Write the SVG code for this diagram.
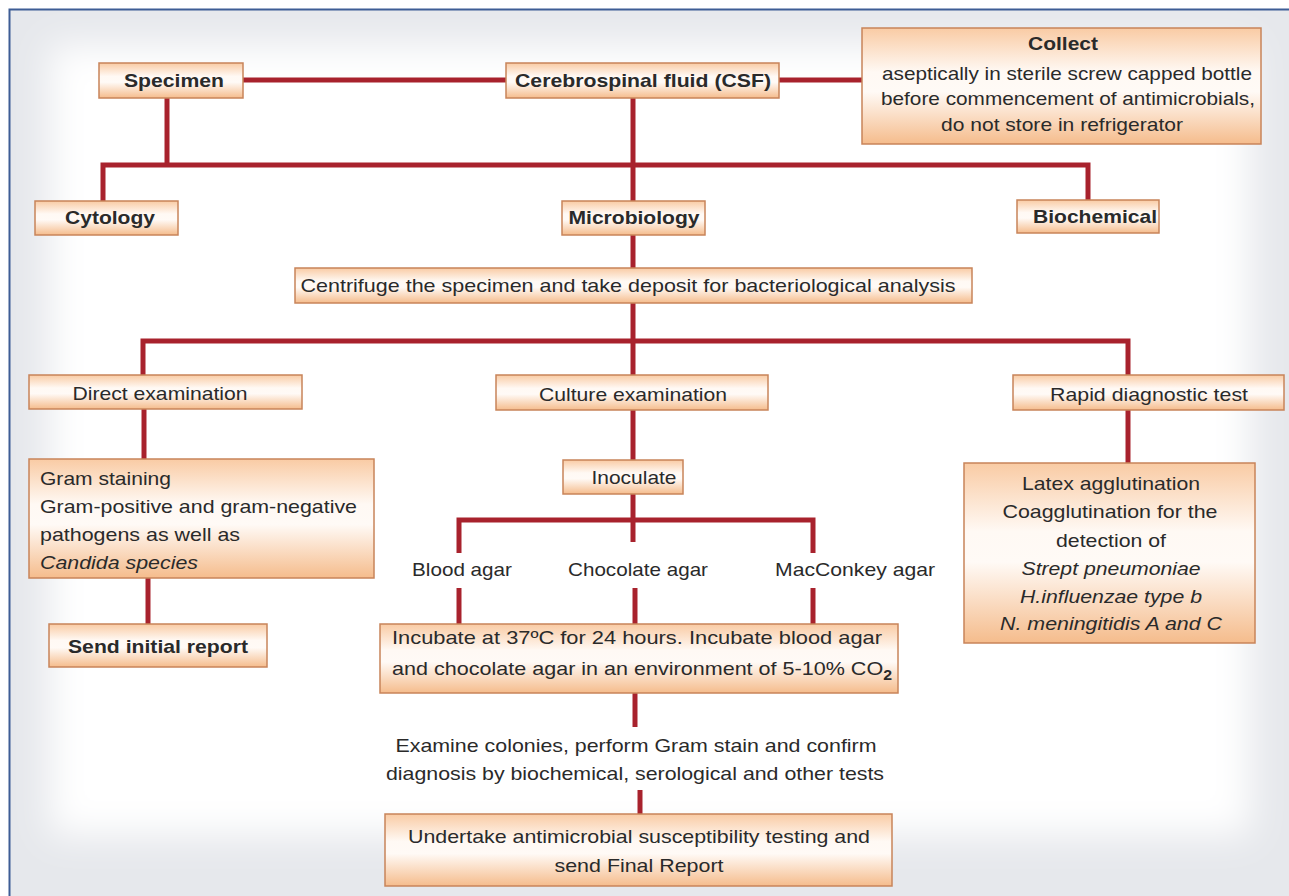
<svg xmlns="http://www.w3.org/2000/svg" width="1289" height="896" viewBox="0 0 1289 896">
<style>
.box{fill:url(#bg);stroke:#c8845a;stroke-width:1.5}
.t{font-family:"Liberation Sans",Arial,Helvetica,sans-serif;font-size:19px;fill:#2a2a2a}
.m{text-anchor:middle}
.b{font-weight:bold}
.i{font-style:italic}
.c{stroke:#a8222d;stroke-width:5;fill:none}
</style>
<defs>
<linearGradient id="bg" x1="0" y1="0" x2="0" y2="1">
<stop offset="0" stop-color="#f9cba4"/>
<stop offset="0.38" stop-color="#fff9f4"/>
<stop offset="0.55" stop-color="#fffaf6"/>
<stop offset="1" stop-color="#f5bc8c"/>
</linearGradient>
<filter id="blur" x="-10%" y="-10%" width="120%" height="120%"><feGaussianBlur stdDeviation="18"/></filter>
</defs>
<rect x="0" y="0" width="1289" height="896" fill="#ffffff"/>
<rect x="9" y="9" width="1290" height="900" fill="#e6e8ec"/>
<rect x="50" y="45" width="1200" height="790" fill="#ffffff" filter="url(#blur)"/>
<path d="M9.5,896 V9.5 H1289" stroke="#3d5d95" stroke-width="2" fill="none"/>

<g id="connectors">
<path class="c" d="M243,80 H506"/>
<path class="c" d="M779,80 H862"/>
<path class="c" d="M167,98 V165"/>
<path class="c" d="M103,201 V165 H1088 V200"/>
<path class="c" d="M633,98 V201"/>
<path class="c" d="M633,235 V268"/>
<path class="c" d="M633,303 V375"/>
<path class="c" d="M143,375 V341 H1128 V375"/>
<path class="c" d="M144,409 V459"/>
<path class="c" d="M148,578 V624"/>
<path class="c" d="M633,410 V460"/>
<path class="c" d="M1128,410 V463"/>
<path class="c" d="M633,494 V542"/>
<path class="c" d="M459,553 V520 H813 V553"/>
<path class="c" d="M459,588 V624"/>
<path class="c" d="M635,588 V624"/>
<path class="c" d="M813,588 V624"/>
<path class="c" d="M635,693 V727"/>
<path class="c" d="M640,790 V814"/>
</g>

<g id="specimen"><rect class="box" x="99" y="63" width="144" height="35"/><text class="t b m" x="174" y="87" textLength="100" lengthAdjust="spacingAndGlyphs">Specimen</text></g>
<g id="csf"><rect class="box" x="506" y="63" width="273" height="35"/><text class="t b m" x="643" y="87" textLength="256" lengthAdjust="spacingAndGlyphs">Cerebrospinal fluid (CSF)</text></g>
<g id="collect"><rect class="box" x="862" y="28" width="399" height="116"/>
<text class="t b m" x="1063" y="50" textLength="70" lengthAdjust="spacingAndGlyphs">Collect</text>
<text class="t m" x="1067" y="80" textLength="370" lengthAdjust="spacingAndGlyphs">aseptically in sterile screw capped bottle</text>
<text class="t m" x="1068" y="105" textLength="374" lengthAdjust="spacingAndGlyphs">before commencement of antimicrobials,</text>
<text class="t m" x="1062" y="131" textLength="242" lengthAdjust="spacingAndGlyphs">do not store in refrigerator</text></g>
<g id="cytology"><rect class="box" x="35" y="201" width="143" height="34"/><text class="t b m" x="110" y="224" textLength="90" lengthAdjust="spacingAndGlyphs">Cytology</text></g>
<g id="microbiology"><rect class="box" x="562" y="201" width="143" height="34"/><text class="t b m" x="634" y="224" textLength="131" lengthAdjust="spacingAndGlyphs">Microbiology</text></g>
<g id="biochemical"><rect class="box" x="1017" y="200" width="142" height="33"/><text class="t b m" x="1095" y="223" textLength="124" lengthAdjust="spacingAndGlyphs">Biochemical</text></g>
<g id="centrifuge"><rect class="box" x="295" y="268" width="677" height="35"/><text class="t m" x="628" y="292" textLength="655" lengthAdjust="spacingAndGlyphs">Centrifuge the specimen and take deposit for bacteriological analysis</text></g>
<g id="direct"><rect class="box" x="29" y="375" width="273" height="34"/><text class="t m" x="160" y="400" textLength="175" lengthAdjust="spacingAndGlyphs">Direct examination</text></g>
<g id="culture"><rect class="box" x="496" y="375" width="272" height="35"/><text class="t m" x="633" y="401" textLength="188" lengthAdjust="spacingAndGlyphs">Culture examination</text></g>
<g id="rapid"><rect class="box" x="1013" y="375" width="271" height="35"/><text class="t m" x="1149" y="401" textLength="198" lengthAdjust="spacingAndGlyphs">Rapid diagnostic test</text></g>
<g id="gram"><rect class="box" x="29" y="459" width="345" height="119"/>
<text class="t" x="40" y="485" textLength="131" lengthAdjust="spacingAndGlyphs">Gram staining</text>
<text class="t" x="40" y="513" textLength="317" lengthAdjust="spacingAndGlyphs">Gram-positive and gram-negative</text>
<text class="t" x="40" y="541" textLength="200" lengthAdjust="spacingAndGlyphs">pathogens as well as</text>
<text class="t i" x="40" y="569" textLength="158" lengthAdjust="spacingAndGlyphs">Candida species</text></g>
<g id="initial"><rect class="box" x="49" y="624" width="218" height="43"/><text class="t b m" x="158" y="653" textLength="180" lengthAdjust="spacingAndGlyphs">Send initial report</text></g>
<g id="inoculate"><rect class="box" x="563" y="460" width="120" height="34"/><text class="t m" x="634" y="484" textLength="85" lengthAdjust="spacingAndGlyphs">Inoculate</text></g>
<g id="blood"><text class="t m" x="462" y="576" textLength="100" lengthAdjust="spacingAndGlyphs">Blood agar</text></g>
<g id="chocolate"><text class="t m" x="638" y="576" textLength="140" lengthAdjust="spacingAndGlyphs">Chocolate agar</text></g>
<g id="macconkey"><text class="t m" x="855" y="576" textLength="160" lengthAdjust="spacingAndGlyphs">MacConkey agar</text></g>
<g id="incubate"><rect class="box" x="380" y="624" width="518" height="69"/>
<text class="t" x="392" y="644" textLength="490" lengthAdjust="spacingAndGlyphs">Incubate at 37ºC for 24 hours. Incubate blood agar</text>
<text class="t" x="392" y="675" textLength="500" lengthAdjust="spacingAndGlyphs">and chocolate agar in an environment of 5-10% CO<tspan class="b" font-size="14" dy="5">2</tspan></text></g>
<g id="examine">
<text class="t m" x="636" y="752" textLength="481" lengthAdjust="spacingAndGlyphs">Examine colonies, perform Gram stain and confirm</text>
<text class="t m" x="635" y="780" textLength="498" lengthAdjust="spacingAndGlyphs">diagnosis by biochemical, serological and other tests</text></g>
<g id="undertake"><rect class="box" x="385" y="814" width="507" height="72"/>
<text class="t m" x="639" y="843" textLength="462" lengthAdjust="spacingAndGlyphs">Undertake antimicrobial susceptibility testing and</text>
<text class="t m" x="639" y="872" textLength="169" lengthAdjust="spacingAndGlyphs">send Final Report</text></g>
<g id="latex"><rect class="box" x="964" y="463" width="291" height="180"/>
<text class="t m" x="1111" y="490" textLength="178" lengthAdjust="spacingAndGlyphs">Latex agglutination</text>
<text class="t m" x="1110" y="518" textLength="215" lengthAdjust="spacingAndGlyphs">Coagglutination for the</text>
<text class="t m" x="1111" y="547" textLength="110" lengthAdjust="spacingAndGlyphs">detection of</text>
<text class="t m i" x="1111" y="575" textLength="179" lengthAdjust="spacingAndGlyphs">Strept pneumoniae</text>
<text class="t m i" x="1111" y="603" textLength="182" lengthAdjust="spacingAndGlyphs">H.influenzae type b</text>
<text class="t m i" x="1111" y="630" textLength="222" lengthAdjust="spacingAndGlyphs">N. meningitidis A and C</text></g>
</svg>
